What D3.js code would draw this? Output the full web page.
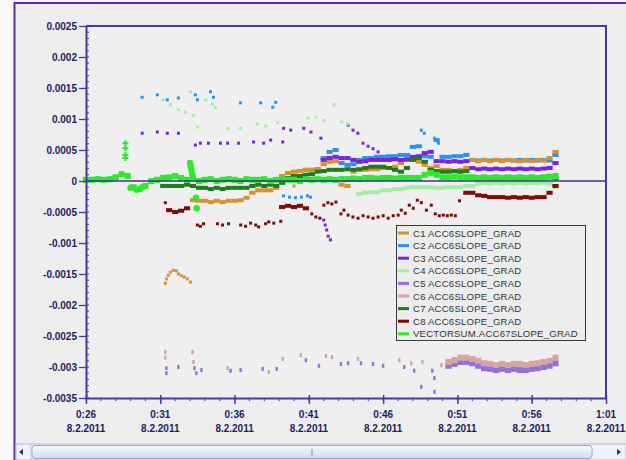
<!DOCTYPE html>
<html>
<head>
<meta charset="utf-8">
<script src="https://cdn.jsdelivr.net/npm/d3@7"></script>
<style>
  body { margin: 0; background: #f7f7f7; }
  svg { display: block; font-family: "Liberation Sans", Arial, sans-serif; }
</style>
</head>
<body>
<svg id="chart" width="626" height="460"></svg>
<script>
// ---- axis labels ----
const dateLabel = "8.2.2011";
const xTickLabels = ["0:26", "0:31", "0:36", "0:41", "0:46", "0:51", "0:56", "1:01"];
const yTickValues = [0.0025, 0.002, 0.0015, 0.001, 0.0005, 0, -0.0005, -0.001, -0.0015, -0.002, -0.0025, -0.003, -0.0035];
const yTickLabels = ["0.0025", "0.002", "0.0015", "0.001", "0.0005", "0", "-0.0005", "-0.001", "-0.0015", "-0.002", "-0.0025", "-0.003", "-0.0035"];

// ---- series ----
const seriesNames = [
  "C1 ACC6SLOPE_GRAD", "C2 ACC6SLOPE_GRAD", "C3 ACC6SLOPE_GRAD", "C4 ACC6SLOPE_GRAD",
  "C5 ACC6SLOPE_GRAD", "C6 ACC6SLOPE_GRAD", "C7 ACC6SLOPE_GRAD", "C8 ACC6SLOPE_GRAD",
  "VECTORSUM.ACC67SLOPE_GRAD"
];
const seriesColors = ["#d89030", "#2f8ff0", "#7a22e0", "#a4eea4", "#9370e0", "#d4a4a4", "#1f7a1f", "#800a0a", "#2ee82e"];

// Samples are minutes after the first tick. Dense runs are logged every STEP minutes:
// [first sample minute, [values...]]. Isolated samples are [minute, value].
const STEP = 0.4;

const c1Runs = [[7.2, [
  -0.00031, -0.00032, -0.00032, -0.00034, -0.00032, -0.00034, -0.00032, -0.00032, -0.00031, -0.00027,
  -0.00019, -0.00015, -0.00015, -0.00015, -0.00011, 0.00008, 0.00013, 0.00015, 0.00016, 0.00018,
  0.00018, 0.00018, 0.00027, 0.00031, 0.00032, -0.00006, -0.00008, 0.00015, 0.00018, 0.00018,
  0.00019, 0.00019, 0.00021, 0.00021, 0.00023, 0.00029, 0.00034, 0.00037, 0.00031, 0.00026,
  0.00021, 0.00024, 0.00018, 0.00018, 0.00016, 0.00018, 0.00021, 0.00034, 0.00032, 0.00034,
  0.00032, 0.00034, 0.00032, 0.00034, 0.00033, 0.00032, 0.00034, 0.00032, 0.00034, 0.00033,
  0.00037, 0.00047
]]];
const c1Points = [
  [5.34, -0.00165], [5.41, -0.00158], [5.54, -0.00152], [5.68, -0.00147], [5.88, -0.00144],
  [6.08, -0.00145], [6.22, -0.0015], [6.42, -0.00153], [6.62, -0.00155], [6.82, -0.00158],
  [7.03, -0.00163], [14.0, -0.00008]
];

const c2Runs = [[14.4, [
  0.00016, 0.00018, 0.00018, 0.00019, 0.00037, 0.00047, 0.0005, 0.00029, 0.00026, 0.00027,
  0.00034, 0.00037, 0.00037, 0.00039, 0.00039, 0.0004, 0.0004, 0.00042, 0.00042, 0.00055,
  0.00056, 0.0004, 0.00039, 0.00066, 0.00039, 0.00039, 0.0004, 0.0004, 0.00042, 0.00034,
  0.00033, 0.00034, 0.00033, 0.00034, 0.00033, 0.00034, 0.00033, 0.00034, 0.00033, 0.00034,
  0.00033, 0.00034, 0.00033, 0.00042
]]];
const c2Points = [
  [3.78, 0.00135], [4.8, 0.00139], [5.47, 0.00131], [6.22, 0.00134], [7.36, 0.00139], [7.5, 0.00131],
  [8.38, 0.00144], [8.58, 0.00135], [10.4, 0.00126], [11.76, 0.00126], [12.57, 0.00119], [12.77, 0.00127],
  [13.3, -0.00024], [13.7, -0.00026], [14.1, -0.00027], [14.5, -0.00026], [14.9, -0.00024], [15.1, -0.00026],
  [22.57, 0.00082], [22.77, 0.00077], [23.45, 0.00069], [23.72, 0.00061]
];

const c3Runs = [[16.0, [
  0.00034, 0.00037, 0.00039, 0.00037, 0.00037, 0.00034, 0.00031, 0.00032, 0.00034, 0.00034,
  0.00034, 0.00034, 0.00035, 0.00034, 0.00035, 0.00039, 0.0004, 0.00045, 0.00047, 0.00032,
  0.00032, 0.00031, 0.00032, 0.00031, 0.00032, 0.00021, 0.00019, 0.0002, 0.00019, 0.0002,
  0.00019, 0.0002, 0.00019, 0.0002, 0.00019, 0.0002, 0.00019, 0.0002, 0.00021, 0.00029
]]];
const c3Points = [
  [3.78, 0.00077], [4.8, 0.00079], [5.47, 0.00077], [6.22, 0.00077], [7.36, 0.00058], [7.7, 0.00061],
  [8.24, 0.00061], [9.05, 0.00061], [9.53, 0.00061], [10.27, 0.00061], [11.28, 0.00063], [11.96, 0.00061],
  [12.43, 0.00066], [13.24, 0.00063], [13.3, 0.00085], [13.78, 0.00082], [14.66, 0.00085], [15.14, 0.00079],
  [15.81, 0.00069], [17.64, 0.0009], [17.97, 0.00082], [18.3, 0.00077], [18.65, 0.00061], [18.99, 0.00056],
  [19.32, 0.00052], [19.66, 0.00047],
  [16.0, -0.00063], [16.1, -0.00071], [16.2, -0.00079], [16.3, -0.00089], [16.45, -0.00095]
];

const c4Runs = [[18.4, [
  -0.00021, -0.00019, -0.00018, -0.00018, -0.00015, -0.00015, -0.00013, -0.00013, -0.00011, -0.0001,
  -0.0001, -0.0001, -0.0001, -0.00011, -0.00011, -0.0001, -0.0001, -0.0001, -0.00008, -0.00008,
  -0.00004, -0.00003, -0.00004, -0.00003, -0.00004, -0.00003, -0.00004, -0.00003, -0.00004, -0.00003,
  -0.00004, -0.00003, -0.00004, -0.0001
]]];
const c4Points = [
  [5.2, 0.00131], [5.68, 0.00123], [6.22, 0.00115], [6.69, 0.00111], [7.03, 0.00144], [7.23, 0.00106],
  [7.5, 0.00087], [8.04, 0.00131], [8.51, 0.00124], [8.72, 0.00118], [9.53, 0.00085], [10.4, 0.00085],
  [11.55, 0.00092], [12.1, 0.00089], [12.9, 0.00094], [14.93, 0.00102], [15.47, 0.00103], [16.0, 0.00098],
  [16.7, 0.00123], [17.2, 0.00095], [17.6, 0.00092]
];

const c5Runs = [[24.4, [
  -0.00298, -0.00295, -0.00292, -0.00292, -0.00294, -0.00298, -0.00302, -0.00303, -0.00305, -0.00303,
  -0.00305, -0.00303, -0.00305, -0.00305, -0.00303, -0.00302, -0.003, -0.00298, -0.00294
]]];
const c5Points = [
  [5.41, -0.00302], [5.41, -0.0031], [6.22, -0.003], [7.3, -0.00302], [7.43, -0.0031], [7.77, -0.00305],
  [9.73, -0.00306], [10.41, -0.00305], [11.89, -0.00303], [12.84, -0.00303], [14.8, -0.00289],
  [15.68, -0.00298], [17.16, -0.00295], [17.64, -0.00294], [18.51, -0.00294], [19.32, -0.00295],
  [20.0, -0.00298], [21.42, -0.003], [22.09, -0.00306], [23.31, -0.00306], [23.45, -0.00318],
  [22.57, -0.00332], [23.45, -0.0034]
];

const c6Runs = [[24.4, [
  -0.00292, -0.00289, -0.00285, -0.00285, -0.00287, -0.0029, -0.00294, -0.00295, -0.00297, -0.00295,
  -0.00297, -0.00295, -0.00295, -0.00297, -0.00295, -0.00294, -0.00292, -0.0029, -0.00285
]]];
const c6Points = [
  [5.34, -0.00276], [5.34, -0.00285], [7.16, -0.00276], [7.23, -0.00292], [9.53, -0.00302],
  [12.3, -0.00308], [13.24, -0.00287], [14.46, -0.00281], [16.15, -0.00282], [16.55, -0.00284],
  [18.31, -0.00287], [21.08, -0.00289], [21.89, -0.00294], [22.64, -0.00292], [23.92, -0.00297]
];

const c7Runs = [[5.2, [
  -0.00008, -0.00008, -0.00008, -0.00008, -0.00006, -0.00008, -0.00011, -0.00011, -0.00013, -0.00011,
  -0.00013, -0.00011, -0.00011, -0.00011, -0.00011, -0.00008, -0.00006, -0.00008, -0.00006, -0.00008,
  -0.00003, 0.00005, 0.00008, 0.00008, 0.0001, 0.00011, 0.00015, 0.00016, 0.00018, 0.00018,
  0.00018, 0.00019, 0.00018, 0.00019, 0.00021, 0.00023, 0.00023, 0.00023, 0.00021, 0.00018,
  0.00015, 0.00021, 0.00034, 0.00037, 0.00031, 0.00018, 0.00016, 0.00015, 0.00015, 0.00016,
  0.00015, 0.00016, 0.00006, 0.00006, 0.00005, 0.00006, 0.00005, 0.00006, 0.00005, 0.00006,
  0.00005, 0.00006, 0.00005, 0.00006, 0.00005, 0.00006, 0.00005
]]];
const c7Points = [];

const c8Runs = [
  [5.6, [-0.00047, -0.0005, -0.00048, -0.00044]],
  [13.2, [-0.00042, -0.0004, -0.00042, -0.0004, -0.00044]],
  [25.6, [-0.00019, -0.00019, -0.00023, -0.00024, -0.00026, -0.00026, -0.00026, -0.00027, -0.00026, -0.00027,
          -0.00026, -0.00027, -0.00026, -0.00026, -0.00019, -0.00008]]
];
const c8Points = [
  [5.34, -0.00035],
  [7.5, -0.00071], [7.7, -0.00073], [7.91, -0.00069], [8.85, -0.00069], [9.19, -0.00071], [9.59, -0.00069],
  [10.41, -0.00071], [10.74, -0.00073], [11.08, -0.00068], [11.42, -0.00071], [11.62, -0.00074],
  [12.09, -0.00069], [12.3, -0.00066], [12.64, -0.00068], [13.11, -0.00065],
  [15.2, -0.00053], [15.47, -0.00058], [15.74, -0.0006], [16.01, -0.00039], [16.28, -0.00035],
  [16.55, -0.00037], [16.82, -0.00034], [17.16, -0.00053],
  [17.36, -0.00047], [17.64, -0.00055], [17.97, -0.00058], [18.31, -0.0006], [18.65, -0.00056],
  [18.99, -0.00058], [19.32, -0.0006], [19.66, -0.00058], [20.0, -0.00056], [20.34, -0.0006],
  [20.68, -0.00056], [21.01, -0.00055], [21.22, -0.00047], [21.49, -0.00052], [21.76, -0.00039],
  [22.03, -0.00044], [22.3, -0.00031], [22.57, -0.00035], [22.91, -0.00047], [23.24, -0.00039],
  [23.51, -0.00053], [23.78, -0.00056], [24.05, -0.00055], [24.32, -0.00056], [24.59, -0.00055],
  [24.86, -0.00056], [25.14, -0.00032]
];

const vsRuns = [[0, [
  0.00002, 0.00002, 0.00003, 0.00002, 0.00003, 0.00006, 0.00011, 0.00008, -0.0001, -0.00013,
  -0.00008, 0, 0.00002, 0.00005, 0.00006, 0.00008, 0.00005, 0.00002, 0.00005, 0,
  0.00002, 0.00003, 0, 0.00002, 0.00003, 0.00002, 0, 0.00003, 0.00002, 0.00002,
  0.00003, 0, 0.00002, 0.00003, 0.00002, 0.00002, 0, 0.00003, 0.00002, 0.00003,
  0.00002, 0.00003, 0.00002, 0.00003, 0.00003, 0.00004, 0.00003, 0.00005, 0.00005, 0.00004,
  0.00005, 0.00005, 0.00004, 0.00005, 0.00005, 0.00005, 0.00005, 0.0001, 0.00013, 0.0001,
  0.00006, 0.00006, 0.00007, 0.00006, 0.00006, 0.00006, 0.00005, 0.00006, 0.00005, 0.00006,
  0.00005, 0.00006, 0.00005, 0.00006, 0.00005, 0.00006, 0.00005, 0.00006, 0.00007, 0.00008
]]];
const vsPoints = [
  [3.0, -0.00011], [3.4, -0.00014], [3.8, -0.0001],
  [7.0, 0.00029], [7.05, 0.00024], [7.1, 0.00018], [7.15, 0.00011],
  [7.4, -0.00027], [7.45, -0.00044]
];
const vsCrosses = [[2.65, 0.00061], [2.65, 0.00053], [2.65, 0.00042], [2.65, 0.00037]];

// ---- layout ----
const svg = d3.select("#chart");
const W = 626, H = 460;
const plot = { left: 86, right: 606, top: 26, bottom: 398 };
const frameColor = "#5a2fa8";
const axisColor = "#4a36a0";
const labelColor = "#1c1c64";

const parseTick = d3.timeParse("%d.%m.%Y %H:%M");
const tickDates = xTickLabels.map(l => parseTick(dateLabel + " " + l));
const t0 = tickDates[0];
const toDate = m => new Date(t0.getTime() + m * 60000);

const x = d3.scaleTime().domain([tickDates[0], tickDates[tickDates.length - 1]]).range([plot.left, plot.right]);
const y = d3.scaleLinear().domain([-0.0035, 0.0025]).range([plot.bottom, plot.top]);

// ---- window background and frame ----
svg.append("rect").attr("width", W).attr("height", H).attr("fill", "#f7f7f7");
svg.append("rect").attr("x", 15).attr("y", 3).attr("width", W - 15).attr("height", H - 3).attr("fill", "#ededed");
svg.append("line").attr("x1", 14.5).attr("x2", 14.5).attr("y1", 2).attr("y2", H)
  .attr("stroke", frameColor).attr("stroke-width", 2);
svg.append("line").attr("x1", 14).attr("x2", W).attr("y1", 3).attr("y2", 3)
  .attr("stroke", frameColor).attr("stroke-width", 2);

// plot area
svg.append("rect").attr("x", plot.left).attr("y", plot.top)
  .attr("width", plot.right - plot.left).attr("height", plot.bottom - plot.top).attr("fill", "#efefef");

// ---- marks ----
function expand(runs, points) {
  const out = [];
  runs.forEach(([start, vals]) => vals.forEach((v, i) => out.push({ t: start + i * STEP, v, dense: true })));
  points.forEach(([t, v]) => out.push({ t, v, dense: false }));
  return out;
}
const series = [
  expand(c1Runs, c1Points), expand(c2Runs, c2Points), expand(c3Runs, c3Points),
  expand(c4Runs, c4Points), expand(c5Runs, c5Points), expand(c6Runs, c6Points),
  expand(c7Runs, c7Points), expand(c8Runs, c8Points), expand(vsRuns, vsPoints)
];
const drawOrder = [1, 0, 2, 3, 4, 5, 6, 7];
const marks = svg.append("g");
drawOrder.forEach(si => {
  const bottomBand = si === 4 || si === 5;
  const dh = bottomBand ? 6 : 4;
  marks.append("g").selectAll("rect").data(series[si]).join("rect")
    .attr("x", d => x(toDate(d.t)) - (d.dense ? 3.1 : (bottomBand ? 1.2 : 1.5)))
    .attr("y", d => y(d.v) - (d.dense ? dh / 2 : (bottomBand ? 2 : 1.5)))
    .attr("width", d => d.dense ? 6.2 : (bottomBand ? 2.4 : 3))
    .attr("height", d => d.dense ? dh : (bottomBand ? 4 : 3))
    .attr("fill", seriesColors[si]);
});
// vector sum on top: continuous band plus round blobs for the isolated samples
const vsData = series[8];
marks.append("g").selectAll("rect").data(vsData.filter(d => d.dense)).join("rect")
  .attr("x", d => x(toDate(d.t)) - 3.1).attr("y", d => y(d.v) - 3)
  .attr("width", 6.2).attr("height", 6).attr("fill", seriesColors[8]);
marks.append("g").selectAll("circle").data(vsData.filter(d => !d.dense)).join("circle")
  .attr("cx", d => x(toDate(d.t))).attr("cy", d => y(d.v)).attr("r", 3.2)
  .attr("fill", seriesColors[8]);
marks.append("g").selectAll("path").data(vsCrosses).join("path")
  .attr("transform", d => `translate(${x(toDate(d[0]))},${y(d[1])})`)
  .attr("d", "M-3,0H3M0,-3V3").attr("stroke", seriesColors[8]).attr("stroke-width", 2);

// zero reference line
svg.append("line").attr("x1", plot.left).attr("x2", plot.right).attr("y1", y(0)).attr("y2", y(0))
  .attr("stroke", "#34348f").attr("stroke-width", 1.6);

// ---- axes ----
const yAxis = svg.append("g").attr("transform", `translate(${plot.left},0)`)
  .call(d3.axisLeft(y).tickValues(yTickValues).tickFormat((d, i) => yTickLabels[i]).tickSize(7).tickSizeOuter(0).tickPadding(2));
yAxis.select(".domain").attr("stroke", axisColor).attr("stroke-width", 2);
yAxis.selectAll(".tick line").attr("stroke", axisColor).attr("stroke-width", 1.3);
yAxis.selectAll(".tick text").attr("fill", labelColor).attr("font-size", 10).attr("font-weight", "bold")
  .attr("font-family", "'Liberation Sans', Arial, sans-serif");

// minor y ticks every 0.0001
svg.append("g").selectAll("line").data(d3.range(-35, 26).map(i => i * 1e-4)).join("line")
  .attr("x1", plot.left).attr("x2", plot.left + 3).attr("y1", d => y(d)).attr("y2", d => y(d))
  .attr("stroke", axisColor).attr("stroke-width", 1);

const xAxis = svg.append("g").attr("transform", `translate(0,${plot.bottom})`)
  .call(d3.axisBottom(x).tickValues(tickDates).tickFormat("").tickSize(6).tickSizeOuter(0));
xAxis.select(".domain").attr("stroke", axisColor).attr("stroke-width", 2);
xAxis.selectAll(".tick line").attr("stroke", axisColor).attr("stroke-width", 1.5).attr("y1", -3);

// minor x ticks every minute
svg.append("g").selectAll("line").data(d3.timeMinute.range(tickDates[0], tickDates[tickDates.length - 1])).join("line")
  .attr("x1", d => x(d)).attr("x2", d => x(d)).attr("y1", plot.bottom).attr("y2", plot.bottom + 3)
  .attr("stroke", axisColor).attr("stroke-width", 1);

// two-line time labels
const xl = svg.append("g").attr("fill", labelColor).attr("font-size", 10).attr("font-weight", "bold")
  .attr("text-anchor", "middle");
tickDates.forEach((d, i) => {
  xl.append("text").attr("x", x(d)).attr("y", 418).text(xTickLabels[i]);
  xl.append("text").attr("x", x(d)).attr("y", 432).text(dateLabel);
});

// top and right frame of the plot
svg.append("line").attr("x1", plot.left).attr("x2", plot.right + 1).attr("y1", plot.top).attr("y2", plot.top)
  .attr("stroke", axisColor).attr("stroke-width", 2);
svg.append("line").attr("x1", plot.right).attr("x2", plot.right).attr("y1", plot.top).attr("y2", plot.bottom)
  .attr("stroke", axisColor).attr("stroke-width", 2);

// ---- legend ----
const lg = svg.append("g").attr("transform", "translate(396,225)");
lg.append("rect").attr("x", 0.5).attr("y", 0.5).attr("width", 189).attr("height", 115)
  .attr("fill", "#ececec").attr("stroke", "#3a3a3a").attr("stroke-width", 1);
seriesNames.forEach((name, i) => {
  const cy = 8 + i * 12.6;
  lg.append("line").attr("x1", 2).attr("x2", 13).attr("y1", cy).attr("y2", cy)
    .attr("stroke", seriesColors[i]).attr("stroke-width", 3);
  lg.append("text").attr("x", 17).attr("y", cy + 3.5).attr("font-size", 9.6).attr("fill", "#333")
    .attr("letter-spacing", 0.2).text(name);
});

// ---- horizontal scroll bar ----
const sb = svg.append("g");
const defs = svg.append("defs");
const grad = defs.append("linearGradient").attr("id", "thumbGrad").attr("x1", 0).attr("x2", 0).attr("y1", 0).attr("y2", 1);
grad.append("stop").attr("offset", "0%").attr("stop-color", "#f8fbff");
grad.append("stop").attr("offset", "100%").attr("stop-color", "#cddbee");
sb.append("rect").attr("x", 16).attr("y", 444).attr("width", W - 16).attr("height", 16)
  .attr("fill", "#eef1f6").attr("stroke", "#b4c0d2");
sb.append("rect").attr("x", 32).attr("y", 445.5).attr("width", 560).attr("height", 13).attr("rx", 3)
  .attr("fill", "url(#thumbGrad)").attr("stroke", "#98aac6");
sb.append("line").attr("x1", 312).attr("x2", 312).attr("y1", 449).attr("y2", 456).attr("stroke", "#7d8ea8");
sb.append("path").attr("d", "M19,452 L23,449 L23,455 Z").attr("fill", "#333");
sb.append("path").attr("d", "M621,452 L617,449 L617,455 Z").attr("fill", "#333");
sb.append("line").attr("x1", 31).attr("x2", 31).attr("y1", 444).attr("y2", 460).attr("stroke", "#c0c8d6");
</script>
</body>
</html>
